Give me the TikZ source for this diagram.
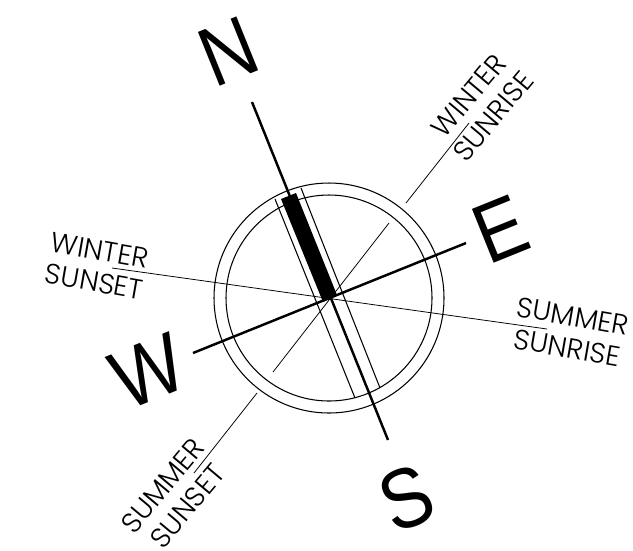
\documentclass[tikz,border=0pt]{standalone}
\usepackage{fontspec}
\setsansfont{Poppins}[UprightFont=* Light]
\newfontfamily\pointfont[FakeStretch=.88]{Liberation Sans}
\usepackage{tikz}
\tikzset{
  hairline/.style={line width=.22pt},
  ringline/.style={line width=.3pt},
  axisline/.style={line width=.7pt},
  pointlabel/.style={inner sep=0pt,rotate=22,font=\pointfont\fontsize{24}{24}\selectfont},
  sunlabel/.style={inner sep=0pt,align=center,font=\sffamily\fontsize{8}{9.1}\selectfont}
}
\begin{document}
\begin{tikzpicture}[x=1cm,y=1cm]
\useasboundingbox (0,0) rectangle (6.33,5.5);
\coordinate (north) at (2.52,4.48);
\coordinate (south) at (3.88,1.10);
\coordinate (west) at (1.93,1.97);
\coordinate (east) at (4.66,3.07);
\coordinate (centre) at (3.29,2.52);
\coordinate (wsetend) at (1.12,2.82);
\coordinate (ssrend) at (5.47,2.21);
\coordinate (wsrin) at (3.89,3.27);
\coordinate (wsrfrom) at (4.06,3.47);
\coordinate (wsrto) at (4.69,4.27);
\coordinate (sstin) at (2.73,1.78);
\coordinate (sstfrom) at (2.57,1.57);
\coordinate (sstto) at (1.94,0.77);
\coordinate (bandla) at (2.75,3.51);
\coordinate (bandlb) at (3.55,1.52);
\coordinate (bandra) at (3.01,3.62);
\coordinate (bandrb) at (3.80,1.62);
\draw[ringline] (centre) circle (1.15);
\draw[ringline] (centre) circle (1.03);
\draw[ringline] (bandla)--(bandlb);
\draw[ringline] (bandra)--(bandrb);
\draw[hairline] (wsetend)--(ssrend);
\draw[hairline] (wsrin)--(sstin);
\draw[hairline] (wsrfrom)--(wsrto);
\draw[hairline] (sstfrom)--(sstto);
\draw[axisline] (north)--(south);
\draw[axisline] (west)--(east);
\fill (2.81,3.51)--(2.96,3.57)--(3.37,2.55)--(3.23,2.48)--cycle;
\node[pointlabel] (labeln) at (2.28,4.98) {N};
\node[pointlabel] (labele) at (5.01,3.21) {E};
\node[pointlabel] (labels) at (4.07,0.52) {S};
\node[pointlabel] (labelw) at (1.48,1.79) {W};
\node[sunlabel,rotate=50] (labelwsr) at (4.81,4.44) {WINTER\\SUNRISE};
\node[sunlabel,rotate=50] (labelsst) at (1.75,0.54) {SUMMER\\SUNSET};
\node[sunlabel,rotate=-10] (labelssr) at (5.70,2.18) {SUMMER\\SUNRISE};
\node[sunlabel,rotate=-10] (labelwst) at (0.97,2.84) {WINTER\\SUNSET};
\end{tikzpicture}
\end{document}
